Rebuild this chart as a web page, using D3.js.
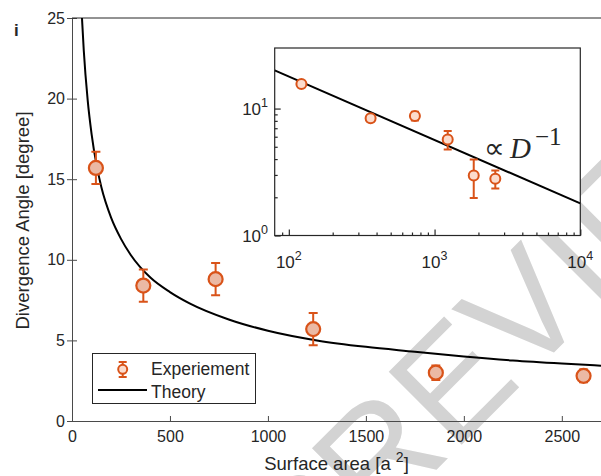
<!DOCTYPE html>
<html>
  <head>
    <script src="https://d3js.org/d3.v7.min.js"></script>
    <style>
      body { margin: 0; background: #fff; }
      svg { display: block; font-family: "Liberation Sans", Arial, sans-serif; }
      text { fill: #262626; }
    </style>
  </head>
  <body>
    <script>
      // experiment points (main, linear axes)
      const area = [122, 364, 733, 1231, 1857, 2611];
      const angle = [15.7, 8.4, 8.8, 5.7, 3.0, 2.8];
      const angleErr = [1.0, 1.0, 1.0, 1.0, 0.45, 0.4];

      // inset (log-log) read separately
      const insetAngle = [15.6, 8.4, 8.75, 5.7, 2.97, 2.8];
      const insetErr = [0.5, 0.5, 0.7, 0.95, 1.0, 0.45];

      // theory curve
      const theoryX = [50, 60, 80, 100, 125, 150, 200, 250, 300, 400, 500, 600, 800, 1000, 1250, 1500, 1750, 2000, 2250, 2500, 2700];
      const theoryY = [25.2, 23.0, 19.9, 17.8, 15.9, 14.5, 12.6, 11.3, 10.3, 8.9, 8.0, 7.3, 6.3, 5.6, 5.0, 4.6, 4.3, 4.0, 3.75, 3.56, 3.43];
      const insetTheoryX = [80, 10000];
      const insetTheoryY = [20.0, 1.79];

      const xTicks = [0, 500, 1000, 1500, 2000, 2500];
      const yTicks = [0, 5, 10, 15, 20, 25];
      const insetXMajor = [100, 1000, 10000];
      const insetYMajor = [1, 10];

      const orange = '#d95319';
      const w = 601, h = 476;

      const svg = d3.select('body').append('svg')
                    .attr('width', w)
                    .attr('height', h);

      // watermark
      svg.append('text')
         .attr('transform', 'translate(512,318) rotate(-45)')
         .attr('text-anchor', 'middle')
         .attr('dy', '0.36em')
         .style('font-size', '150px')
         .style('fill', '#d3d3d3')
         .text('PREVIEW');

      const xScale = d3.scaleLinear().domain([0, 2700]).range([72, 601]);
      const yScale = d3.scaleLinear().domain([0, 25]).range([421, 18]);

      svg.append('defs').append('clipPath').attr('id', 'clipMain')
         .append('rect').attr('x', 72).attr('y', 18).attr('width', 529).attr('height', 403);

      // main axes
      const xAxis = d3.axisBottom(xScale).tickValues(xTicks).tickSizeInner(-5).tickSizeOuter(0)
                      .tickPadding(10).tickFormat(d3.format('d'));
      const yAxis = d3.axisLeft(yScale).tickValues(yTicks).tickSizeInner(5).tickSizeOuter(0)
                      .tickPadding(2).tickFormat(d3.format('d'));

      const gx = svg.append('g').attr('transform', 'translate(0,421)').call(xAxis);
      const gy = svg.append('g').attr('transform', 'translate(72,0)').call(yAxis);
      gy.selectAll('.tick line').attr('x1', 5).attr('x2', -5);
      [gx, gy].forEach(g => {
        g.select('.domain').attr('stroke', '#4a4a4a');
        g.selectAll('.tick line').attr('stroke', '#4a4a4a');
        g.selectAll('text').style('font-size', '16px').attr('fill', '#262626');
      });
      svg.append('line').attr('x1', 72).attr('x2', 601).attr('y1', 18).attr('y2', 18)
         .attr('stroke', '#262626');

      // theory
      const theory = theoryX.map((x, i) => [x, theoryY[i]]);
      svg.append('path')
         .datum(theory)
         .attr('clip-path', 'url(#clipMain)')
         .attr('fill', 'none')
         .attr('stroke', '#000')
         .attr('stroke-width', 2)
         .attr('d', d3.line().x(d => xScale(d[0])).y(d => yScale(d[1])).curve(d3.curveMonotoneX));

      // error bars + markers
      const pts = area.map((x, i) => ({x: x, y: angle[i], e: angleErr[i], iy: insetAngle[i], ie: insetErr[i]}));
      const pg = svg.append('g');
      pg.selectAll('.eb').data(pts).enter().append('path')
        .attr('fill', 'none').attr('stroke', orange).attr('stroke-width', 2)
        .attr('d', d => {
          const cx = xScale(d.x), y1 = yScale(d.y + d.e), y2 = yScale(d.y - d.e);
          return `M${cx},${y1}V${y2}M${cx - 4.5},${y1}H${cx + 4.5}M${cx - 4.5},${y2}H${cx + 4.5}`;
        });
      pg.selectAll('circle').data(pts).enter().append('circle')
        .attr('cx', d => xScale(d.x)).attr('cy', d => yScale(d.y)).attr('r', 7)
        .attr('fill', '#ebb9a4').attr('stroke', orange).attr('stroke-width', 2.2);

      // legend
      const lg = svg.append('g');
      lg.append('rect').attr('x', 92.5).attr('y', 353.5).attr('width', 163).attr('height', 50)
        .attr('fill', '#fff').attr('stroke', '#262626');
      lg.append('path').attr('fill', 'none').attr('stroke', orange).attr('stroke-width', 2)
        .attr('d', 'M122.7,362V377M118.7,362H126.7M118.7,377H126.7');
      lg.append('circle').attr('cx', 122.7).attr('cy', 369.3).attr('r', 4.5)
        .attr('fill', '#fcdccd').attr('stroke', orange).attr('stroke-width', 2);
      lg.append('line').attr('x1', 98).attr('x2', 147).attr('y1', 390).attr('y2', 390)
        .attr('stroke', '#000').attr('stroke-width', 2);
      lg.append('text').attr('x', 151).attr('y', 375).style('font-size', '17.5px').text('Experiement');
      lg.append('text').attr('x', 151).attr('y', 397.5).style('font-size', '17.5px').text('Theory');

      // labels
      svg.append('text').attr('transform', 'translate(29,220.5) rotate(-90)')
         .attr('text-anchor', 'middle').style('font-size', '18.5px').text('Divergence Angle [degree]');
      const xl = svg.append('text').attr('x', 336.5).attr('y', 470)
         .attr('text-anchor', 'middle').style('font-size', '18.5px');
      xl.append('tspan').text('Surface area [a ');
      xl.append('tspan').attr('dy', -8).style('font-size', '14px').text('2');
      xl.append('tspan').attr('dy', 8).text(']');
      svg.append('text').attr('x', 14).attr('y', 36).style('font-size', '17px').style('font-weight', 'bold').text('i');

      // inset
      const ix = d3.scaleLog().domain([80, 10000]).range([274.7, 580.3]);
      const iy = d3.scaleLog().domain([1, 30]).range([235.5, 48]);
      const ins = svg.append('g');
      ins.append('rect').attr('x', 274.7).attr('y', 48).attr('width', 305.6).attr('height', 187.5)
         .attr('fill', '#fff').attr('stroke', 'none');

      const xMinor = [90, 200, 300, 400, 500, 600, 700, 800, 900, 2000, 3000, 4000, 5000, 6000, 7000, 8000, 9000];
      const yMinor = [2, 3, 4, 5, 6, 7, 8, 9];
      ins.append('g').attr('transform', 'translate(0,235.5)')
         .call(d3.axisBottom(ix).tickValues(xMinor).tickSizeInner(-3).tickSizeOuter(0).tickFormat(''));
      ins.append('g').attr('transform', 'translate(0,235.5)')
         .call(d3.axisBottom(ix).tickValues(insetXMajor).tickSizeInner(-6).tickSizeOuter(0).tickFormat(''));
      ins.append('g').attr('transform', 'translate(274.7,0)')
         .call(d3.axisLeft(iy).tickValues(yMinor).tickSizeInner(-3).tickSizeOuter(0).tickFormat(''));
      ins.append('g').attr('transform', 'translate(274.7,0)')
         .call(d3.axisLeft(iy).tickValues(insetYMajor).tickSizeInner(-6).tickSizeOuter(0).tickFormat(''));
      ins.selectAll('.domain').remove();
      ins.selectAll('.tick line').attr('stroke', '#262626').attr('stroke-width', 1.2);

      insetXMajor.forEach(v => {
        const t = ins.append('text').attr('x', ix(v)).attr('y', 268).attr('text-anchor', 'middle')
                     .style('font-size', '17px');
        t.append('tspan').text('10');
        t.append('tspan').attr('dy', -8).style('font-size', '12.5px').text(Math.round(Math.log10(v)));
      });
      insetYMajor.forEach(v => {
        const t = ins.append('text').attr('x', 268).attr('y', iy(v) + 6).attr('text-anchor', 'end')
                     .style('font-size', '17px');
        t.append('tspan').text('10');
        t.append('tspan').attr('dy', -8).style('font-size', '12.5px').text(Math.round(Math.log10(v)));
      });

      ins.append('path')
         .datum(insetTheoryX.map((x, i) => [x, insetTheoryY[i]]))
         .attr('fill', 'none').attr('stroke', '#000').attr('stroke-width', 2)
         .attr('d', d3.line().x(d => ix(d[0])).y(d => iy(d[1])));

      ins.selectAll('.ieb').data(pts).enter().append('path')
         .attr('fill', 'none').attr('stroke', orange).attr('stroke-width', 2)
         .attr('d', d => {
           const cx = ix(d.x), y1 = iy(d.iy + d.ie), y2 = iy(d.iy - d.ie);
           return `M${cx},${y1}V${y2}M${cx - 4},${y1}H${cx + 4}M${cx - 4},${y2}H${cx + 4}`;
         });
      ins.selectAll('.ic').data(pts).enter().append('circle')
         .attr('cx', d => ix(d.x)).attr('cy', d => iy(d.iy)).attr('r', 5)
         .attr('fill', '#fcdccd').attr('stroke', orange).attr('stroke-width', 2);

      ins.append('rect').attr('x', 274.7).attr('y', 48).attr('width', 305.6).attr('height', 187.5)
         .attr('fill', 'none').attr('stroke', '#262626').attr('stroke-width', 1.2);

      // annotation
      const ann = ins.append('text').attr('x', 484).attr('y', 158).style('font-family', '"Liberation Serif", serif')
                     .style('font-size', '29px').attr('fill', '#000');
      ann.append('tspan').text('\u221D');
      ann.append('tspan').attr('dx', 5).style('font-style', 'italic').text('D');
      ann.append('tspan').attr('dx', 4).attr('dy', -13).style('font-size', '25px').text('\u22121');
    </script>
  </body>
</html>
